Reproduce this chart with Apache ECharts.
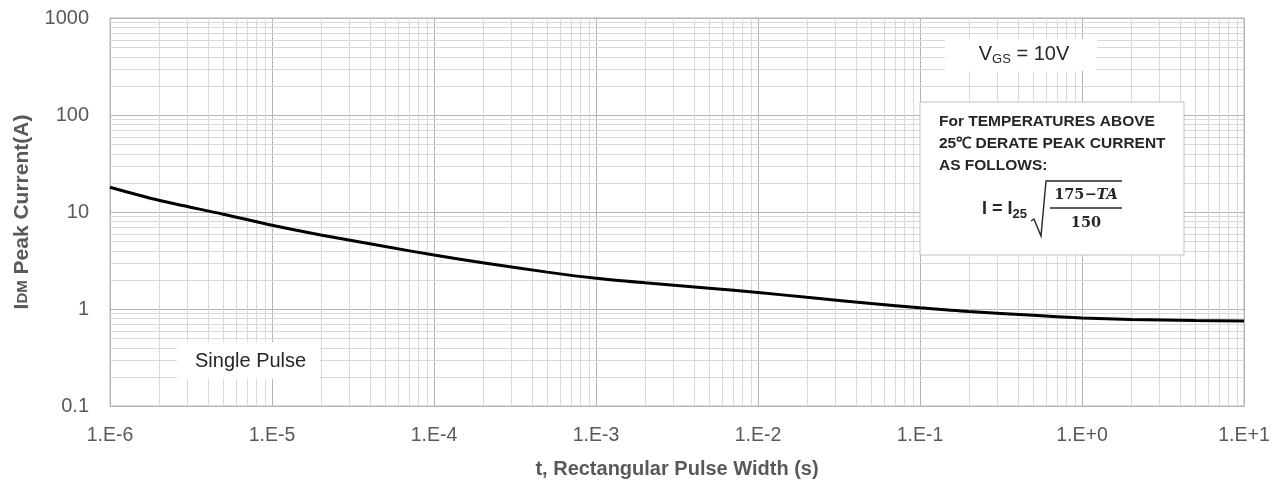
<!DOCTYPE html>
<html>
<head>
<meta charset="utf-8">
<script src="https://cdn.jsdelivr.net/npm/echarts@6/dist/echarts.min.js"></script>
<style>
  html, body { margin: 0; padding: 0; background: #fff; }
  #chart { width: 1281px; height: 484px; }
</style>
</head>
<body>
<div id="chart"></div>
<script>
// pulse width (s) vs peak drain current (A), single pulse
const pulseWidth = [1e-6, 2e-6, 5e-6, 1e-5, 2e-5, 5e-5, 1e-4, 2e-4, 5e-4, 1e-3, 2e-3, 5e-3,
  1e-2, 2e-2, 5e-2, 1e-1, 2e-1, 5e-1, 1, 2, 5, 10];
const peakCurrent = [18.0, 13.2, 9.5, 7.3, 5.8, 4.4, 3.6, 3.0, 2.4, 2.07, 1.86, 1.64,
  1.48, 1.32, 1.14, 1.03, 0.94, 0.86, 0.81, 0.78, 0.76, 0.75];

const xTickLabels = ["1.E-6", "1.E-5", "1.E-4", "1.E-3", "1.E-2", "1.E-1", "1.E+0", "1.E+1"];
const yTickLabels = ["0.1", "1", "10", "100", "1000"];

const xDecades = [-6, -5, -4, -3, -2, -1, 0];
const yDecades = [-1, 0, 1, 2];

// minor grid lines at 2..9 of each decade
const xMinor = [];
xDecades.forEach(e => { for (let m = 2; m <= 9; m++) xMinor.push(m * Math.pow(10, e)); });
const yMinor = [];
yDecades.forEach(e => { for (let m = 2; m <= 9; m++) yMinor.push(m * Math.pow(10, e)); });

const xMin = 1e-6, xMax = 10, yMin = 0.1, yMax = 1000;

const labelColor = "#595959";
const textColor = "#262626";
const font = "Liberation Sans";
const minorColor = "#d9d9d9";
const majorColor = "#b4b4b4";

const chart = echarts.init(document.getElementById("chart"));

function gridLine(p1, p2) {
  return {
    type: "line",
    shape: { x1: p1[0], y1: p1[1], x2: p2[0], y2: p2[1] },
    style: { stroke: minorColor, lineWidth: 1 }
  };
}

const option = {
  animation: false,
  grid: {
    left: 110, right: 37, top: 18, bottom: 76,
    show: true, borderColor: majorColor, borderWidth: 1
  },
  xAxis: {
    type: "log",
    logBase: 10,
    min: xMin,
    max: xMax,
    interval: 1,
    name: "t, Rectangular Pulse Width (s)",
    nameLocation: "middle",
    nameGap: 53,
    nameTextStyle: { color: labelColor, fontFamily: font, fontSize: 20, fontWeight: "bold" },
    axisLine: { lineStyle: { color: majorColor } },
    axisTick: { show: false },
    axisLabel: {
      color: labelColor, fontFamily: font, fontSize: 19.5, margin: 20,
      formatter: (v, i) => xTickLabels[i]
    },
    splitLine: { show: true, lineStyle: { color: majorColor, width: 1 } }
  },
  yAxis: {
    type: "log",
    logBase: 10,
    min: yMin,
    max: yMax,
    interval: 1,
    name: "{a|I}{b|DM}{a| Peak Current(A)}",
    nameLocation: "middle",
    nameGap: 77,
    nameTextStyle: {
      rich: {
        a: { color: labelColor, fontFamily: font, fontSize: 21, fontWeight: "bold" },
        b: { color: labelColor, fontFamily: font, fontSize: 15, fontWeight: "bold" }
      }
    },
    axisLine: { lineStyle: { color: majorColor } },
    axisTick: { show: false },
    axisLabel: {
      color: labelColor, fontFamily: font, fontSize: 20, margin: 21,
      formatter: (v, i) => yTickLabels[i]
    },
    splitLine: { show: true, lineStyle: { color: majorColor, width: 1 } }
  },
  series: [
    {
      name: "minor x grid",
      type: "custom",
      silent: true,
      z: 1,
      data: xMinor.map(v => [v, yMin]),
      renderItem: (params, api) => {
        const v = api.value(0);
        const a = api.coord([v, yMin]);
        const b = api.coord([v, yMax]);
        const x = Math.round(a[0]) + 0.5;
        return gridLine([x, a[1]], [x, b[1]]);
      }
    },
    {
      name: "minor y grid",
      type: "custom",
      silent: true,
      z: 1,
      data: yMinor.map(v => [xMin, v]),
      renderItem: (params, api) => {
        const v = api.value(1);
        const a = api.coord([xMin, v]);
        const b = api.coord([xMax, v]);
        const y = Math.round(a[1]) + 0.5;
        return gridLine([a[0], y], [b[0], y]);
      }
    },
    {
      name: "Single Pulse",
      type: "line",
      z: 5,
      smooth: 0.3,
      showSymbol: false,
      lineStyle: { color: "#000", width: 3 },
      data: pulseWidth.map((t, i) => [t, peakCurrent[i]])
    }
  ],
  graphic: [
    // VGS note
    { type: "rect", z: 100, shape: { x: 945, y: 39, width: 152, height: 32 }, style: { fill: "#fff" } },
    {
      type: "text", z: 101, x: 1024, y: 54,
      style: {
        text: "{v|V}{s|GS}{v| = 10V}",
        align: "center", verticalAlign: "middle",
        rich: {
          v: { fontFamily: font, fontSize: 20, fill: textColor },
          s: { fontFamily: font, fontSize: 13, fill: textColor, padding: [10, 0, 0, 0] }
        }
      }
    },
    // derating note box
    { type: "rect", z: 100, shape: { x: 920, y: 102, width: 264, height: 153 },
      style: { fill: "#fff", stroke: "#bfbfbf", lineWidth: 1 } },
    {
      type: "text", z: 101, x: 939, y: 111,
      style: {
        text: "For TEMPERATURES ABOVE\n25\u2103 DERATE PEAK CURRENT\nAS FOLLOWS:",
        fontFamily: font, fontSize: 15.5, fontWeight: "bold",
        lineHeight: 22, fill: textColor
      }
    },
    {
      type: "text", z: 101, x: 982, y: 209,
      style: {
        text: "{a|I = I}{s|25}",
        verticalAlign: "middle",
        rich: {
          a: { fontFamily: font, fontSize: 18, fontWeight: "bold", fill: textColor },
          s: { fontFamily: font, fontSize: 13, fontWeight: "bold", fill: textColor, padding: [11, 0, 0, 0] }
        }
      }
    },
    {
      type: "polyline", z: 101,
      shape: { points: [[1031, 221], [1034, 219], [1041, 236], [1046, 181], [1122, 181]] },
      style: { stroke: textColor, lineWidth: 1.4, fill: null }
    },
    {
      type: "text", z: 101, x: 1086, y: 195,
      style: {
        text: "{n|175\u2212}{i|TA}",
        align: "center", verticalAlign: "middle",
        rich: {
          n: { fontFamily: "DejaVu Serif", fontSize: 14.5, fontWeight: "bold", fill: textColor },
          i: { fontFamily: "DejaVu Serif", fontSize: 14.5, fontWeight: "bold", fontStyle: "italic", fill: textColor }
        }
      }
    },
    { type: "line", z: 101, shape: { x1: 1050, y1: 208, x2: 1122, y2: 208 },
      style: { stroke: textColor, lineWidth: 1.4 } },
    {
      type: "text", z: 101, x: 1086, y: 223,
      style: {
        text: "150", align: "center", verticalAlign: "middle",
        fontFamily: "DejaVu Serif", fontSize: 14.5, fontWeight: "bold", fill: textColor
      }
    },
    // single pulse note
    { type: "rect", z: 100, shape: { x: 177, y: 342, width: 143, height: 37 }, style: { fill: "#fff" } },
    {
      type: "text", z: 101, x: 195, y: 361,
      style: {
        text: "Single Pulse", verticalAlign: "middle",
        fontFamily: font, fontSize: 20, fill: textColor
      }
    }
  ]
};

chart.setOption(option);
</script>
</body>
</html>
